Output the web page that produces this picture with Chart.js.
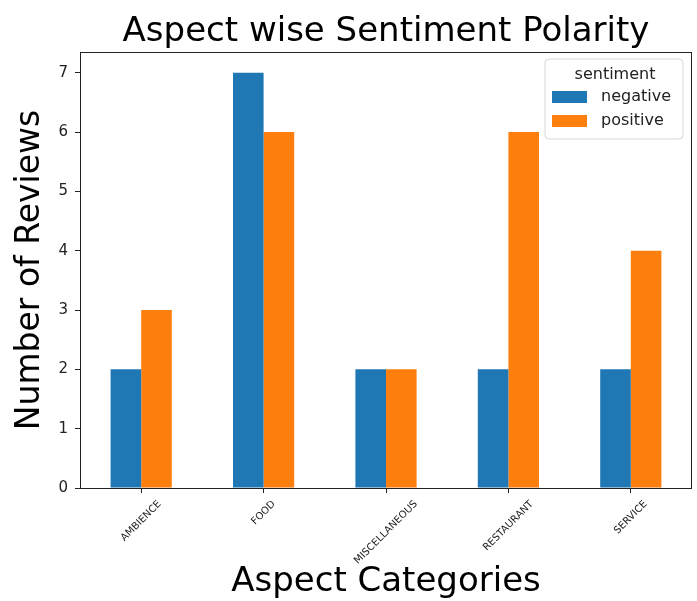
<!DOCTYPE html>
<html>
<head>
<meta charset="utf-8">
<script src="https://cdn.jsdelivr.net/npm/chart.js@4.4.1/dist/chart.umd.min.js"></script>
<style>
  html, body { margin: 0; padding: 0; background: #fff; }
</style>
</head>
<body>
<canvas id="chart" width="697" height="601"></canvas>
<script>
const categories = ['AMBIENCE', 'FOOD', 'MISCELLANEOUS', 'RESTAURANT', 'SERVICE'];
const negativeCounts = [2, 7, 2, 2, 2];
const positiveCounts = [3, 6, 2, 6, 4];
const yTickValues = [0, 1, 2, 3, 4, 5, 6, 7];
const legendTitle = 'sentiment';

const FONT = '"DejaVu Sans", sans-serif';

// frame, centred rotated category labels and the boxed legend
const extras = {
    id: 'extras',
    afterDraw(chart) {
        const {ctx, chartArea: a, scales: {x}} = chart;
        ctx.save();
        ctx.strokeStyle = '#222';
        ctx.lineWidth = 1;
        ctx.strokeRect(a.left + 0.5, a.top + 0.5, a.right - a.left - 1, a.bottom - a.top);

        ctx.font = '10px ' + FONT;
        ctx.fillStyle = '#222';
        ctx.textAlign = 'center';
        ctx.textBaseline = 'middle';
        categories.forEach((c, i) => {
            const px = x.getPixelForValue(i);
            const w = ctx.measureText(c).width;
            const cy = a.bottom + 11 + (w + 10) * Math.SQRT1_2 / 2;
            ctx.save();
            ctx.translate(px, cy);
            ctx.rotate(-Math.PI / 4);
            ctx.fillText(c, 0, 0);
            ctx.restore();
        });

        const bx = a.right - 147, by = a.top + 7, bw = 138, bh = 80;
        ctx.beginPath();
        ctx.roundRect(bx, by, bw, bh, 4);
        ctx.fillStyle = 'rgba(255,255,255,0.8)';
        ctx.fill();
        ctx.strokeStyle = '#d6d6d6';
        ctx.stroke();

        ctx.font = '16px ' + FONT;
        ctx.fillStyle = '#222';
        ctx.textAlign = 'center';
        ctx.fillText(legendTitle, bx + 70, by + 16);
        ctx.textAlign = 'left';
        chart.data.datasets.forEach((ds, i) => {
            const ry = by + 32 + i * 24;
            ctx.fillStyle = ds.backgroundColor;
            ctx.fillRect(bx + 7, ry, 35, 12);
            ctx.fillStyle = '#222';
            ctx.fillText(ds.label, bx + 56, ry + 6);
        });
        ctx.restore();
    }
};

new Chart(document.getElementById('chart'), {
    type: 'bar',
    data: {
        labels: categories,
        datasets: [
            {label: 'negative', data: negativeCounts, backgroundColor: '#1f77b4'},
            {label: 'positive', data: positiveCounts, backgroundColor: '#ff7f0e'}
        ]
    },
    options: {
        responsive: false,
        animation: false,
        layout: {padding: {top: 0, right: 5, bottom: 0, left: 0}},
        datasets: {
            bar: {categoryPercentage: 0.5, barPercentage: 1.0}
        },
        plugins: {
            legend: {display: false},
            tooltip: {enabled: false}
        },
        scales: {
            // top axis only carries the chart title, so it centres over the plot
            top: {
                type: 'category',
                position: 'top',
                border: {display: false},
                grid: {display: false},
                ticks: {display: false},
                title: {
                    display: true,
                    text: 'Aspect wise Sentiment Polarity',
                    color: '#000',
                    font: {family: FONT, size: 34, lineHeight: 1},
                    padding: {top: 15, bottom: 0}
                },
                afterFit(s) { s.height = 52; }
            },
            x: {
                border: {display: false},
                grid: {drawOnChartArea: false, offset: false, tickLength: 5, color: '#222'},
                ticks: {display: false},
                title: {
                    display: true,
                    text: 'Aspect Categories',
                    color: '#000',
                    font: {family: FONT, size: 34, lineHeight: 1},
                    padding: {top: 0, bottom: 2}
                },
                afterFit(s) { s.height = 113; }
            },
            y: {
                min: 0,
                max: 7.35,
                border: {display: false},
                grid: {drawOnChartArea: false, tickLength: 5, color: '#222'},
                ticks: {
                    stepSize: 1,
                    padding: 7,
                    color: '#222',
                    font: {family: FONT, size: 15}
                },
                afterBuildTicks(s) {
                    s.ticks = yTickValues.map(v => ({value: v}));
                },
                title: {
                    display: true,
                    text: 'Number of Reviews',
                    color: '#000',
                    font: {family: FONT, size: 33, lineHeight: 1},
                    padding: {top: 14, bottom: 0}
                },
                afterFit(s) { s.width = 80; }
            }
        }
    },
    plugins: [extras]
});
</script>
</body>
</html>
